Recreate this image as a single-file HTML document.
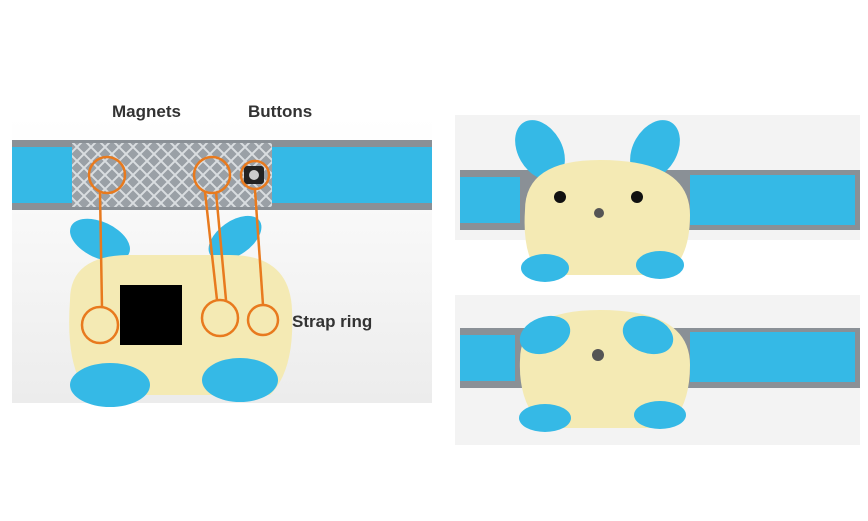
<!DOCTYPE html>
<html><head><meta charset="utf-8"><style>
html,body{margin:0;padding:0;background:#fff;}
svg{display:block;}
text{font-family:"Liberation Sans",sans-serif;font-weight:bold;fill:#333;}
</style></head><body>
<svg width="868" height="521" viewBox="0 0 868 521">
<defs>
<pattern id="quilt" width="14" height="14" patternUnits="userSpaceOnUse">
<rect width="14" height="14" fill="#9aa0a6"/>
<path d="M0 0L14 14M14 0L0 14" stroke="#d9dde0" stroke-width="2"/>
</pattern>
<linearGradient id="bgL" x1="0" y1="0" x2="0" y2="1"><stop offset="0" stop-color="#fff"/><stop offset="1" stop-color="#ececec"/></linearGradient>
</defs>

<!-- LEFT PANEL -->
<g>
<rect x="12" y="118" width="420" height="285" fill="url(#bgL)"/>
<rect x="12" y="140" width="420" height="70" fill="#8a9096"/>
<rect x="12" y="147" width="60" height="56" fill="#35b9e6"/>
<rect x="272" y="147" width="160" height="56" fill="#35b9e6"/>
<rect x="72" y="143" width="200" height="64" fill="url(#quilt)"/>
<rect x="244" y="166" width="20" height="18" rx="3" fill="#222"/>
<circle cx="254" cy="175" r="5" fill="#ccc"/>
<!-- toy -->
<ellipse cx="100" cy="240" rx="32" ry="18" fill="#35b9e6" transform="rotate(25 100 240)"/>
<ellipse cx="235" cy="238" rx="30" ry="17" fill="#35b9e6" transform="rotate(-35 235 238)"/>
<path d="M70 300 Q70 255 130 255 L230 255 Q290 255 292 310 Q295 370 270 395 L90 395 Q65 370 70 300Z" fill="#f4eab4"/>
<ellipse cx="110" cy="385" rx="40" ry="22" fill="#35b9e6"/>
<ellipse cx="240" cy="380" rx="38" ry="22" fill="#35b9e6"/>
<rect x="120" y="285" width="62" height="60" fill="#000"/>
</g>

<!-- annotations -->
<g fill="none" stroke="#e87a1e" stroke-width="2.5">
<circle cx="107" cy="175" r="18"/>
<circle cx="212" cy="175" r="18"/>
<circle cx="255" cy="175" r="14"/>
<circle cx="100" cy="325" r="18"/>
<circle cx="220" cy="318" r="18"/>
<circle cx="263" cy="320" r="15"/>
<line x1="100" y1="192" x2="102" y2="308"/>
<line x1="205" y1="192" x2="217" y2="300"/>
<line x1="216" y1="192" x2="226" y2="300"/>
<line x1="255" y1="190" x2="263" y2="305"/>
</g>
<text x="112" y="117" font-size="17">Magnets</text>
<text x="248" y="117" font-size="17">Buttons</text>
<text x="292" y="327" font-size="17">Strap ring</text>

<!-- RIGHT TOP PANEL -->
<g>
<rect x="455" y="115" width="405" height="125" fill="#f3f3f3"/>
<rect x="460" y="170" width="400" height="60" fill="#8a9096"/>
<rect x="460" y="177" width="60" height="46" fill="#35b9e6"/>
<rect x="690" y="175" width="165" height="50" fill="#35b9e6"/>
<ellipse cx="540" cy="150" rx="22" ry="32" fill="#35b9e6" transform="rotate(-30 540 150)"/>
<ellipse cx="655" cy="150" rx="22" ry="32" fill="#35b9e6" transform="rotate(30 655 150)"/>
<path d="M525 210 Q525 160 600 160 Q690 160 690 215 Q690 260 665 275 L540 275 Q522 255 525 210Z" fill="#f4eab4"/>
<ellipse cx="545" cy="268" rx="24" ry="14" fill="#35b9e6"/>
<ellipse cx="660" cy="265" rx="24" ry="14" fill="#35b9e6"/>
<circle cx="560" cy="197" r="6" fill="#111"/>
<circle cx="637" cy="197" r="6" fill="#111"/>
<circle cx="599" cy="213" r="5" fill="#555"/>
</g>

<!-- RIGHT BOTTOM PANEL -->
<g>
<rect x="455" y="295" width="405" height="150" fill="#f3f3f3"/>
<rect x="460" y="328" width="400" height="60" fill="#8a9096"/>
<rect x="460" y="335" width="55" height="46" fill="#35b9e6"/>
<rect x="690" y="332" width="165" height="50" fill="#35b9e6"/>
<path d="M520 360 Q520 310 600 310 Q690 310 690 365 Q690 410 665 428 L545 428 Q518 405 520 360Z" fill="#f4eab4"/>
<ellipse cx="545" cy="335" rx="26" ry="18" fill="#35b9e6" transform="rotate(-20 545 335)"/>
<ellipse cx="648" cy="335" rx="26" ry="18" fill="#35b9e6" transform="rotate(20 648 335)"/>
<ellipse cx="545" cy="418" rx="26" ry="14" fill="#35b9e6"/>
<ellipse cx="660" cy="415" rx="26" ry="14" fill="#35b9e6"/>
<circle cx="598" cy="355" r="6" fill="#555"/>
</g>
</svg>
</body></html>
